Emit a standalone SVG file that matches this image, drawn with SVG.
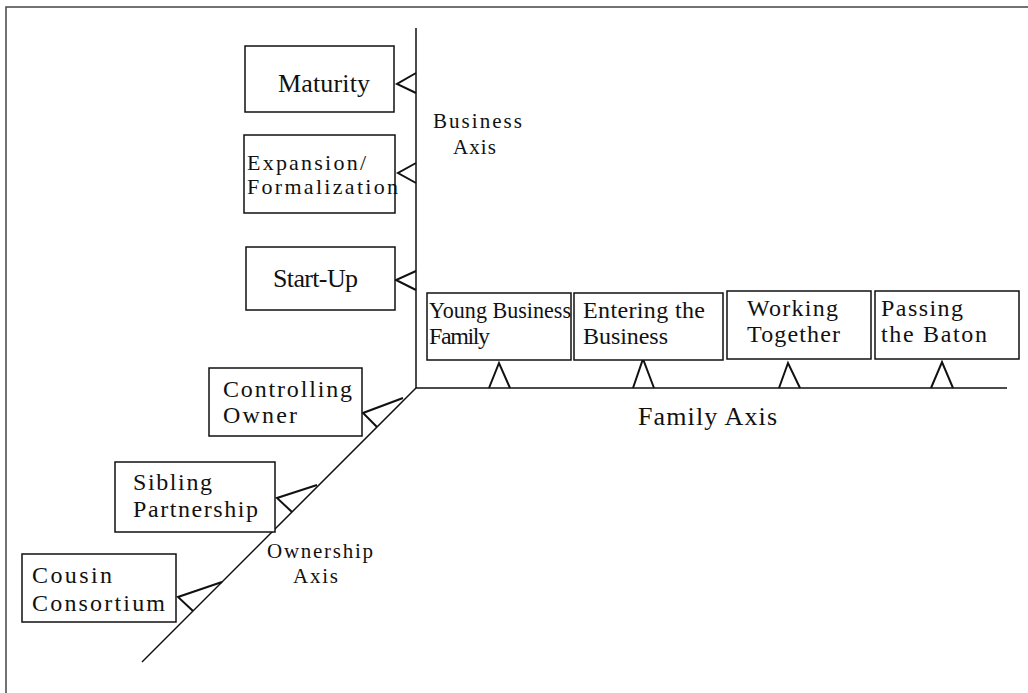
<svg xmlns="http://www.w3.org/2000/svg" width="1028" height="693" viewBox="0 0 1028 693">
<style>
text{font-family:"Liberation Serif","Times New Roman","DejaVu Serif",serif;fill:#111}
.s{font-size:26px}
.t{font-size:24px}
.e{font-size:22px}
.a{font-size:21px}
.fa{font-size:26px}
.box{fill:#fff;stroke:#111;stroke-width:1.5}
.ln{fill:none;stroke:#111;stroke-width:1.5}
.ar{fill:none;stroke:#111;stroke-width:2}
</style>
<rect width="1028" height="693" fill="#fff"/>
<path d="M6,693 V7 H1028" fill="none" stroke="#444" stroke-width="1.5"/>
<g id="connectors">
<path class="ln" d="M416,28 V388 H1007"/>
<path class="ln" d="M416,388 L142,662"/>
<path class="ar" d="M416,73 L397,84 L416,93"/>
<path class="ar" d="M416,163 L398,173 L416,183"/>
<path class="ar" d="M416,271 L396,280 L416,290"/>
<path class="ar" d="M489,388 L499,363 L510,388"/>
<path class="ar" d="M633,388 L643,359 L654,388"/>
<path class="ar" d="M779,388 L788,363 L800,388"/>
<path class="ar" d="M931,388 L942,362 L953,388"/>
<path class="ar" d="M403,398 L363,413 L377,427"/>
<path class="ar" d="M317,485 L277,498 L292,512"/>
<path class="ar" d="M222,582 L178,597 L193,611"/>
</g>
<g id="business-axis-label">
<text class="a" x="433" y="128" textLength="89">Business</text>
<text class="a" x="453" y="154" textLength="43">Axis</text>
</g>
<g id="family-axis-label">
<text class="fa" x="638" y="425" textLength="139">Family Axis</text>
</g>
<g id="ownership-axis-label">
<text class="a" x="267" y="558" textLength="106">Ownership</text>
<text class="a" x="293" y="583" textLength="45">Axis</text>
</g>
<g id="maturity">
<rect class="box" x="245" y="46" width="149" height="66"/>
<text class="s" x="278" y="92" textLength="92">Maturity</text>
</g>
<g id="expansion">
<rect class="box" x="244" y="135" width="151" height="78"/>
<text class="e" x="247" y="170" textLength="119">Expansion/</text>
<text class="e" x="247" y="194" textLength="151">Formalization</text>
</g>
<g id="startup">
<rect class="box" x="246" y="247" width="149" height="63"/>
<text class="s" x="273" y="287" textLength="85">Start-Up</text>
</g>
<g id="young-business-family">
<rect class="box" x="427" y="293" width="144" height="67"/>
<text class="t" x="429" y="318" textLength="142" lengthAdjust="spacingAndGlyphs">Young Business</text>
<text class="t" x="429" y="344" textLength="61">Family</text>
</g>
<g id="entering-the-business">
<rect class="box" x="574" y="293" width="149" height="67"/>
<text class="t" x="583" y="318" textLength="122">Entering the</text>
<text class="t" x="583" y="344" textLength="85">Business</text>
</g>
<g id="working-together">
<rect class="box" x="727" y="291" width="144" height="68"/>
<text class="t" x="747" y="316" textLength="91">Working</text>
<text class="t" x="747" y="342" textLength="93">Together</text>
</g>
<g id="passing-the-baton">
<rect class="box" x="875" y="291" width="144" height="68"/>
<text class="t" x="881" y="316" textLength="82">Passing</text>
<text class="t" x="881" y="342" textLength="106">the Baton</text>
</g>
<g id="controlling-owner">
<rect class="box" x="209" y="368" width="153" height="68"/>
<text class="t" x="223" y="397" textLength="129">Controlling</text>
<text class="t" x="223" y="423" textLength="74">Owner</text>
</g>
<g id="sibling-partnership">
<rect class="box" x="115" y="462" width="160" height="70"/>
<text class="t" x="133" y="490" textLength="79">Sibling</text>
<text class="t" x="133" y="517" textLength="125">Partnership</text>
</g>
<g id="cousin-consortium">
<rect class="box" x="22" y="554" width="154" height="68"/>
<text class="t" x="32" y="583" textLength="80">Cousin</text>
<text class="t" x="32" y="611" textLength="133">Consortium</text>
</g>
</svg>
